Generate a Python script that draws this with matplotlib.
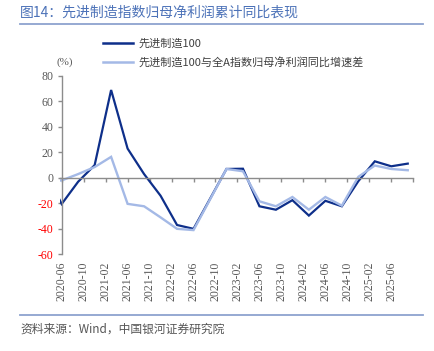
import matplotlib.pyplot as plt
from matplotlib.lines import Line2D

plt.rcParams['font.family'] = ['Noto Sans CJK SC', 'DejaVu Sans']

# quarterly data (2020-03 is only partly visible at the left edge)
quarters = ['2020-03', '2020-06', '2020-09', '2020-12',
            '2021-03', '2021-06', '2021-09', '2021-12',
            '2022-03', '2022-06', '2022-09', '2022-12',
            '2023-03', '2023-06', '2023-09', '2023-12',
            '2024-03', '2024-06', '2024-09', '2024-12',
            '2025-03', '2025-06', '2025-09']
adv_mfg = [5, -20.5, -3, 10,
           69, 23, 3, -14,
           -37, -40, -16.5, 7,
           7.2, -22.3, -25, -17.5,
           -29.6, -18, -22.3, -2.6,
           13, 9.1, 11.2]
spread = [-3, -2, 3, 8.5,
          16.5, -20.4, -22.3, -31,
          -40, -41, -17, 7,
          5.2, -18.4, -22.3, -15,
          -25, -15, -21.8, 0.8,
          9.7, 7, 6]
tick_labels = ['2020-06', '2020-10', '2021-02', '2021-06', '2021-10', '2022-02',
               '2022-06', '2022-10', '2023-02', '2023-06', '2023-10', '2024-02',
               '2024-06', '2024-10', '2025-02', '2025-06', '2025-10']
yticks = [-60, -40, -20, 0, 20, 40, 60, 80]


def month_pos(s):
    y, m = s.split('-')
    return (int(y) - 2020) * 12 + int(m) - 6


x = [month_pos(q) for q in quarters]
xt = [month_pos(t) for t in tick_labels]

dark = '#0e2f8a'
light = '#a4b9e6'
grey = '#8c8c8c'

fig = plt.figure(figsize=(4.35, 3.51), dpi=100)
ax = fig.add_axes([0.138, 0.2755, 0.812, 0.508])

ax.plot(x, adv_mfg, color=dark, lw=1.6, solid_joinstyle='miter')
ax.plot(x, spread, color=light, lw=1.7, solid_joinstyle='miter')

ax.set_xlim(-0.3, 64)
ax.set_ylim(-60, 80)

for s in ['top', 'right']:
    ax.spines[s].set_visible(False)
ax.spines['left'].set_position(('data', 0))
ax.spines['bottom'].set_position(('data', 0))
for s in ['left', 'bottom']:
    ax.spines[s].set_color(grey)
    ax.spines[s].set_linewidth(1.0)

ax.set_yticks(yticks)
ax.set_yticklabels([str(v) for v in yticks], family='Liberation Serif', fontsize=8.5)
for lab, v in zip(ax.get_yticklabels(), yticks):
    lab.set_color('#ff0000' if v < 0 else '#595959')
ax.tick_params(axis='y', direction='out', length=3, width=1, color=grey, pad=3)

ax.set_xticks(xt)
ax.set_xticklabels(tick_labels[:-1] + [''], rotation=90, family='Liberation Serif',
                   fontsize=8.5, color='#595959')
ax.tick_params(axis='x', direction='out', length=3, width=1, color=grey, pad=57)

# legend
handles = [Line2D([], [], color=dark, lw=1.8), Line2D([], [], color=light, lw=1.8)]
fig.legend(handles, ['先进制造100', '先进制造100与全A指数归母净利润同比增速差'],
           loc='upper left', bbox_to_anchor=(0.214, 0.919), frameon=False,
           fontsize=8, handlelength=2.7, handletextpad=0.45, labelspacing=0.75,
           labelcolor='#404040')
fig.text(0.13, 0.823, '(%)', fontsize=8, color='#595959', family='Liberation Serif',
         va='center')

# header and footer
fig.text(0.046, 0.965, '图14：先进制造指数归母净利润累计同比表现', fontsize=10,
         color='#4c72b8', va='center')
fig.add_artist(Line2D([0.046, 0.972], [0.933, 0.933], color='#8da2cf', lw=1.3))
fig.add_artist(Line2D([0.046, 0.972], [0.103, 0.103], color='#8da2cf', lw=1.3))
fig.text(0.046, 0.063, '资料来源：Wind，中国银河证券研究院', fontsize=8.5,
         color='#555555', va='center')

fig.savefig('out.png', dpi=100)
